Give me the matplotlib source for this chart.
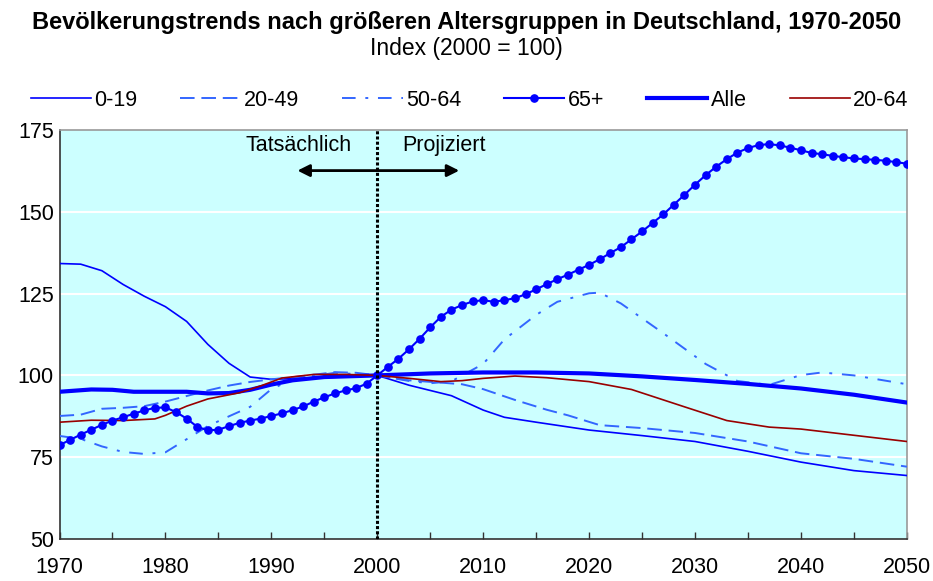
import matplotlib
matplotlib.use("Agg")
import matplotlib.pyplot as plt

plt.rcParams['font.family'] = ['Liberation Sans', 'DejaVu Sans']

# 0-19
yrs_019 = [1970, 1972, 1974, 1976, 1978, 1980, 1982, 1984, 1986, 1988, 1990, 1995, 2000,
           2003, 2007, 2010, 2012, 2015, 2020, 2025, 2030, 2035, 2040, 2045, 2050]
val_019 = [134.2, 134.0, 132.0, 127.8, 124.2, 121.0, 116.5, 109.5, 103.7, 99.5, 98.8, 99.3, 100.0,
           97.0, 93.8, 89.4, 87.2, 85.7, 83.3, 81.6, 79.8, 76.8, 73.5, 70.9, 69.4]

# 20-49
yrs_2049 = [1970, 1972, 1974, 1976, 1978, 1980, 1982, 1984, 1986, 1988, 1990, 1993, 1996, 1998, 2000,
            2003, 2006, 2008, 2010, 2013, 2016, 2018, 2021, 2025, 2030, 2035, 2040, 2045, 2050]
val_2049 = [87.6, 88.0, 89.8, 90.1, 90.6, 92.0, 93.7, 95.4, 96.9, 98.0, 98.8, 99.8, 101.0, 100.8, 100.0,
            98.5, 97.8, 97.3, 95.8, 92.5, 89.5, 87.8, 84.8, 83.9, 82.4, 79.8, 76.2, 74.5, 72.1]

# 50-64
yrs_5064 = [1970, 1972, 1974, 1976, 1978, 1980, 1982, 1984, 1986, 1988, 1990, 1992, 1996, 2000,
            2003, 2005, 2007, 2010, 2012, 2015, 2017, 2020, 2021, 2023, 2027, 2031, 2034, 2037,
            2040, 2042, 2045, 2050]
val_5064 = [81.5, 80.6, 78.3, 76.6, 76.0, 76.5, 80.5, 84.5, 87.5, 90.4, 95.8, 98.8, 100.8, 100.0,
            98.3, 97.6, 98.2, 103.5, 111.0, 118.5, 122.5, 125.1, 125.3, 122.0, 112.9, 103.5, 98.3, 97.1,
            100.1, 100.9, 100.0, 97.3]

# 65+ (annual)
yrs_65 = list(range(1970, 2051))
val_65 = [78.7, 80.3, 81.9, 83.4, 84.9, 86.2, 87.2, 88.3, 89.3, 90.1,
          90.2, 88.8, 86.8, 84.3, 83.2, 83.4, 84.5, 85.5, 86.2, 86.8,
          87.6, 88.4, 89.4, 90.5, 92.0, 93.3, 94.5, 95.4, 96.1, 97.5,
          100.0, 102.6, 105.1, 108.0, 111.2, 114.7, 117.9, 120.1, 121.5, 122.6,
          123.0, 122.5, 123.0, 123.6, 124.8, 126.3, 127.9, 129.4, 130.8, 132.3,
          133.8, 135.5, 137.4, 139.2, 141.6, 144.0, 146.6, 149.2, 152.2, 155.2,
          158.3, 161.2, 163.8, 166.1, 168.1, 169.5, 170.4, 170.7, 170.3, 169.6,
          168.8, 168.0, 167.6, 167.1, 166.7, 166.3, 166.1, 165.9, 165.6, 165.2,
          164.7]

# Alle
yrs_alle = [1970, 1973, 1975, 1977, 1980, 1982, 1984, 1986, 1988, 1990, 1992, 1995, 2000,
            2005, 2010, 2015, 2020, 2025, 2030, 2035, 2040, 2045, 2050]
val_alle = [95.0, 95.7, 95.6, 95.0, 95.0, 95.0, 94.5, 94.6, 95.6, 97.2, 98.5, 99.5, 100.0,
            100.6, 100.9, 100.9, 100.6, 99.7, 98.6, 97.4, 96.0, 94.1, 91.7]

# 20-64
yrs_2064 = [1970, 1973, 1976, 1979, 1980, 1982, 1984, 1987, 1989, 1991, 1994, 1997, 2000,
            2003, 2006, 2008, 2010, 2013, 2016, 2020, 2024, 2029, 2033, 2037, 2040, 2045, 2050]
val_2064 = [85.7, 86.3, 86.2, 86.7, 87.8, 90.6, 92.8, 94.7, 96.8, 99.2, 100.3, 100.3, 100.0,
            99.1, 98.1, 98.4, 99.1, 99.8, 99.3, 98.1, 95.7, 90.4, 86.2, 84.2, 83.6, 81.7, 79.8]

fig = plt.figure(figsize=(9.33, 5.81), dpi=100)
ax = fig.add_axes([0.0638, 0.0723, 0.9082, 0.7039])
ax.set_facecolor('#CCFFFF')

for y in [75, 100, 125, 150]:
    ax.axhline(y, color='white', lw=1.5, zorder=1)

ax.plot(yrs_019, val_019, color='#0000FF', lw=1.2, label='0-19', zorder=3)
ax.plot(yrs_2049, val_2049, color='#3366FF', lw=1.4, ls=(0, (7.5, 3.5)), label='20-49', zorder=3)
ax.plot(yrs_5064, val_5064, color='#3366FF', lw=1.4, ls=(0, (7, 5, 1.5, 5)), label='50-64', zorder=3)
ax.plot(yrs_65, val_65, color='#0000FF', lw=1.5, marker='o', ms=5.2, label='65+', zorder=4)
ax.plot(yrs_alle, val_alle, color='#0000FF', lw=3.0, label='Alle', zorder=3)
ax.plot(yrs_2064, val_2064, color='#990000', lw=1.2, label='20-64', zorder=3)

ax.axvline(2000, color='black', lw=2.2, ls=(0, (1, 0.7)), zorder=5)

ax.annotate('', xy=(1992.2, 162.6), xytext=(2008.0, 162.6),
            arrowprops=dict(arrowstyle='<|-|>', color='black', lw=2, mutation_scale=18), zorder=6)
ax.text(1992.6, 170.4, 'Tatsächlich', ha='center', va='center', fontsize=15.5)
ax.text(2006.3, 170.4, 'Projiziert', ha='center', va='center', fontsize=15.5)

ax.set_xlim(1970, 2050)
ax.set_ylim(50, 175)
ax.set_xticks(range(1970, 2051, 10))
ax.set_xticks(range(1975, 2050, 10), minor=True)
ax.set_yticks([50, 75, 100, 125, 150, 175])
ax.tick_params(axis='x', which='both', direction='in', length=5, width=1, color='#333333',
               labelsize=15.5, pad=13)
ax.tick_params(axis='y', length=0, labelsize=15.5, pad=4)

for s in ['left', 'bottom']:
    ax.spines[s].set_color('#333333')
    ax.spines[s].set_linewidth(1.2)
for s in ['top', 'right']:
    ax.spines[s].set_color('#999999')
    ax.spines[s].set_linewidth(1.2)

ax.legend(ncol=6, loc='center', bbox_to_anchor=(0.484, 1.073), frameon=False,
          fontsize=15.5, handlelength=2.8, handletextpad=0.15, columnspacing=2.0,
          borderaxespad=0, borderpad=0)

fig.text(0.5, 1 - 23 / 581, 'Bevölkerungstrends nach größeren Altersgruppen in Deutschland, 1970-2050',
         ha='center', va='center', fontsize=17, fontweight='bold')
fig.text(0.5, 1 - 48 / 581, 'Index (2000 = 100)', ha='center', va='center', fontsize=16.5)

fig.savefig('out.png', dpi=100)
